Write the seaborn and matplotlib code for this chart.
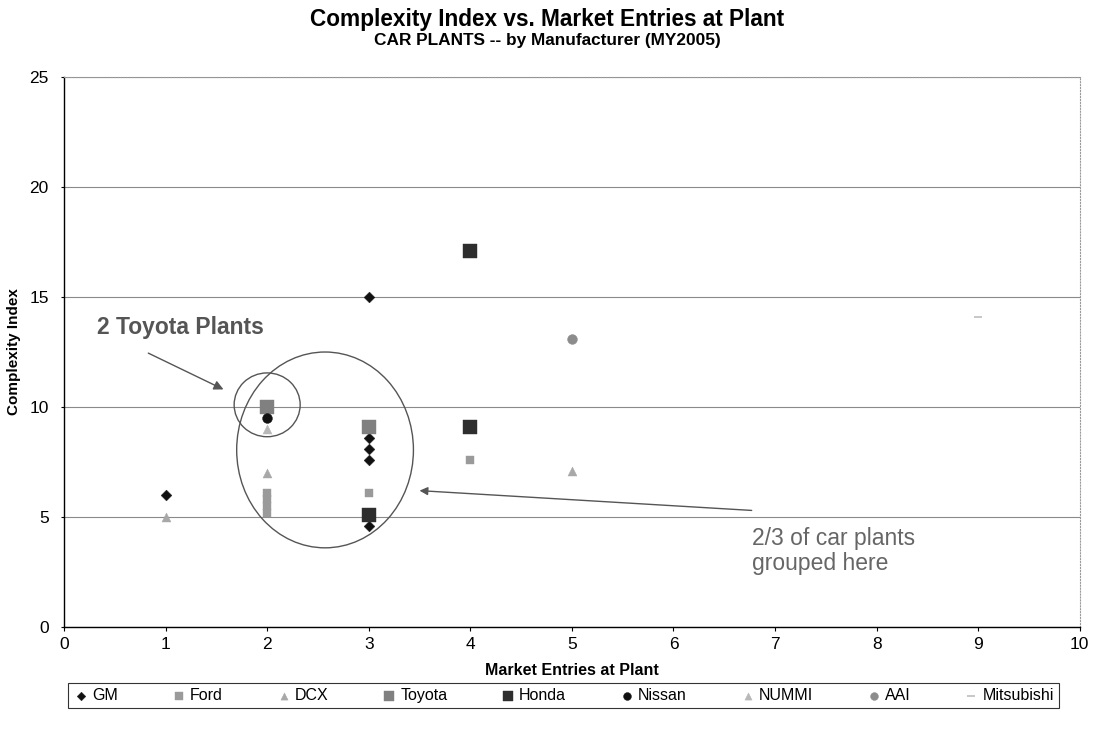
import matplotlib
matplotlib.use("Agg")
import matplotlib.pyplot as plt
from matplotlib.patches import Ellipse
import pandas as pd
import seaborn as sns

# --- data --------------------------------------------------------------
manufacturers = ["GM", "Ford", "DCX", "Toyota", "Honda", "Nissan", "NUMMI", "AAI", "Mitsubishi"]

gm_x = [1, 3, 3, 3, 3, 3]
gm_y = [6.0, 15.0, 8.6, 8.1, 7.6, 4.6]
ford_x = [2, 2, 2, 2, 3, 4]
ford_y = [6.1, 5.8, 5.5, 5.2, 6.1, 7.6]
dcx_x = [1, 2, 5]
dcx_y = [5.0, 7.0, 7.1]
toyota_x = [2, 3]
toyota_y = [10.0, 9.1]
honda_x = [3, 4, 4]
honda_y = [5.1, 17.1, 9.1]
nissan_x = [2]
nissan_y = [9.5]
nummi_x = [2]
nummi_y = [9.0]
aai_x = [5]
aai_y = [13.1]
mitsu_x = [9]
mitsu_y = [14.1]

series_x = [gm_x, ford_x, dcx_x, toyota_x, honda_x, nissan_x, nummi_x, aai_x, mitsu_x]
series_y = [gm_y, ford_y, dcx_y, toyota_y, honda_y, nissan_y, nummi_y, aai_y, mitsu_y]

# style per series
STYLE = {
    "GM":         dict(marker="D", color="#111111", s=30),
    "Ford":       dict(marker="s", color="#9a9a9a", s=40),
    "DCX":        dict(marker="^", color="#a8a8a8", s=42),
    "Toyota":     dict(marker="s", color="#808080", s=95),
    "Honda":      dict(marker="s", color="#2e2e2e", s=95),
    "Nissan":     dict(marker="o", color="#111111", s=50),
    "NUMMI":      dict(marker="^", color="#b8b8b8", s=42),
    "AAI":        dict(marker="o", color="#8c8c8c", s=50),
    "Mitsubishi": dict(marker="_", color="#bdbdbd", s=40),
}

rows = []
for name, xs, ys in zip(manufacturers, series_x, series_y):
    for x, y in zip(xs, ys):
        rows.append({"Manufacturer": name, "Entries": x, "Complexity": y})
df = pd.DataFrame(rows)

sns.set_style("white")
plt.rcParams["font.family"] = ["Liberation Sans", "DejaVu Sans"]
plt.rcParams["text.color"] = "black"
plt.rcParams["axes.labelcolor"] = "black"
plt.rcParams["xtick.color"] = "black"
plt.rcParams["ytick.color"] = "black"

fig = plt.figure(figsize=(10.94, 7.32), dpi=100)
ax = fig.add_axes([0.0585, 0.1434, 0.9285, 0.7514])

for name in manufacturers:
    st = STYLE[name]
    sub = df[df["Manufacturer"] == name]
    sns.scatterplot(data=sub, x="Entries", y="Complexity", ax=ax,
                    marker=st["marker"], color=st["color"], s=st["s"],
                    edgecolor=st["color"] if st["marker"] != "_" else None,
                    linewidth=1.2 if st["marker"] == "_" else 0.3,
                    label=name, zorder=3)

ax.set_xlim(0, 10)
ax.set_ylim(0, 25)
ax.set_xticks(range(0, 11))
ax.set_yticks(range(0, 26, 5))
ax.tick_params(axis="both", labelsize=12.5, direction="out", width=0.8,
               color="black", left=True, bottom=True)
ax.tick_params(axis="y", length=2, pad=9)
ax.tick_params(axis="x", length=3, pad=4)
ax.yaxis.grid(True, color="#8a8a8a", linewidth=0.8)
ax.xaxis.grid(False)
for side in ["left", "bottom"]:
    ax.spines[side].set_color("black")
    ax.spines[side].set_linewidth(1.0)
for side in ["top", "right"]:
    ax.spines[side].set_color("#9a9a9a")
    ax.spines[side].set_linestyle(":")
    ax.spines[side].set_linewidth(0.8)

ax.set_xlabel("Market Entries at Plant", fontsize=11.5, fontweight="bold", labelpad=8)
ax.set_ylabel("Complexity Index", fontsize=11, fontweight="bold")
ax.yaxis.set_label_coords(-0.042, 0.5)

# titles
fig.text(0.5, 0.974, "Complexity Index vs. Market Entries at Plant",
         ha="center", va="center", fontsize=16.3, fontweight="bold")
fig.text(0.5, 0.945, "CAR PLANTS -- by Manufacturer (MY2005)",
         ha="center", va="center", fontsize=12.4, fontweight="bold")

# annotations: circles and arrows
ax.add_patch(Ellipse((2.0, 10.1), 0.65, 2.9, fill=False, edgecolor="#555555",
                     linewidth=1.0, zorder=4))
ax.add_patch(Ellipse((2.57, 8.05), 1.74, 8.9, fill=False, edgecolor="#555555",
                     linewidth=1.0, zorder=4))

ax.text(0.32, 13.6, "2 Toyota Plants", fontsize=16.5, fontweight="bold",
        color="#555555", va="center", ha="left")
ax.annotate("", xy=(1.57, 10.8), xytext=(0.83, 12.45),
            arrowprops=dict(arrowstyle="-|>", color="#555555", lw=1.0,
                            shrinkA=0, shrinkB=0, mutation_scale=14))
ax.annotate("", xy=(3.5, 6.2), xytext=(6.77, 5.3),
            arrowprops=dict(arrowstyle="-|>", color="#555555", lw=1.0,
                            shrinkA=0, shrinkB=0, mutation_scale=12))
ax.text(6.77, 3.45, "2/3 of car plants\ngrouped here", fontsize=16.5,
        color="#666666", va="center", ha="left", linespacing=1.15)

# legend along the bottom
handles, labels = ax.get_legend_handles_labels()
ax.legend_.remove()
leg = fig.legend(handles, labels, loc="center", ncol=9,
                 bbox_to_anchor=(0.515, 0.0495), fontsize=11.5,
                 frameon=True, fancybox=False, edgecolor="black",
                 handletextpad=0.2, columnspacing=3.3, handlelength=1.0,
                 borderpad=0.3, markerscale=0.8)
leg.get_frame().set_linewidth(0.8)

fig.savefig("out.png", dpi=100)
